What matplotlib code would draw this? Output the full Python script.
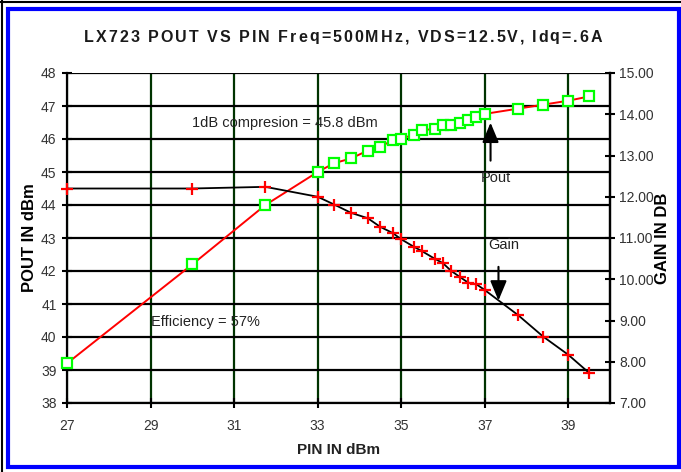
import matplotlib
matplotlib.use("Agg")
import matplotlib.pyplot as plt
from matplotlib import font_manager
from matplotlib.patches import Rectangle
from matplotlib.lines import Line2D

# data
pin = [27, 30, 31.75, 33, 33.4, 33.8, 34.2, 34.5, 34.8, 35, 35.3, 35.5,
       35.8, 36, 36.2, 36.4, 36.6, 36.8, 37, 37.8, 38.4, 39, 39.5]
pout = [39.2, 42.2, 44.0, 45.0, 45.27, 45.41, 45.65, 45.77, 45.96, 46.01,
        46.13, 46.26, 46.31, 46.43, 46.43, 46.5, 46.57, 46.68, 46.76,
        46.92, 47.04, 47.16, 47.29]
gain = [12.2, 12.2, 12.24, 12.0, 11.81, 11.61, 11.48, 11.27, 11.12, 10.97,
        10.79, 10.68, 10.5, 10.39, 10.2, 10.06, 9.92, 9.88, 9.74, 9.13,
        8.61, 8.17, 7.73]
x_ticks = [27, 29, 31, 33, 35, 37, 39]
pout_ticks = list(range(38, 49))
gain_ticks = [7, 8, 9, 10, 11, 12, 13, 14, 15]

title = "LX723 POUT VS PIN Freq=500MHz, VDS=12.5V, Idq=.6A"

plt.rcParams['font.family'] = ['Liberation Sans', 'DejaVu Sans']
note_font = dict(family=['Liberation Sans', 'DejaVu Sans'], fontsize=10.5)

W, H = 681, 472
fig = plt.figure(figsize=(W / 100, H / 100), dpi=100)
fig.patch.set_facecolor('white')

# outer frame: black on left/top, blue box inside
fig.add_artist(Line2D([1.5 / W, 1.5 / W], [0, 1], color='black', lw=1.5,
                      transform=fig.transFigure))
fig.add_artist(Line2D([0, 1], [1 - 1.5 / H, 1 - 1.5 / H], color='black', lw=1.5,
                      transform=fig.transFigure))
fig.add_artist(Rectangle((7.5 / W, 1 - 466.5 / H), (679 - 7.5) / W, (466.5 - 8.5) / H,
                         fill=False, edgecolor='#0000ff', lw=3,
                         transform=fig.transFigure))

left, right, top, bottom = 67, 610, 73, 403
ax = fig.add_axes([left / W, 1 - bottom / H, (right - left) / W, (bottom - top) / H])
ax.set_xlim(27, 40)
ax.set_ylim(38, 48)
ax.set_xticks(x_ticks)
ax.set_yticks(pout_ticks)

for x in x_ticks:
    ax.axvline(x, color='#003300', lw=1.6, zorder=1)
for y in pout_ticks:
    ax.axhline(y, color='black', lw=1.6, zorder=1)

ax.spines['top'].set_visible(False)
for s in ['left', 'bottom', 'right']:
    ax.spines[s].set_linewidth(1.6)

ax.tick_params(direction='inout', length=7, width=1.5, labelsize=10,
               labelcolor='#333333', pad=4)
ax.tick_params(axis='x', pad=8)

ax.plot(pin, pout, color='red', lw=1.4, zorder=3)
ax.plot(pin, pout, ls='none', marker='s', ms=6.5, mfc='white', mec='#00ff00',
        mew=1.6, zorder=4, clip_on=False)

ax.set_xlabel('PIN IN dBm', fontsize=11, fontweight='bold', color='#222222',
              labelpad=7)
ax.set_ylabel('POUT IN dBm', fontsize=12, fontweight='bold', color='black',
              labelpad=3)

ax2 = ax.twinx()
ax2.set_ylim(7, 15)
ax2.set_yticks(gain_ticks)
ax2.set_yticklabels(['%.2f' % g for g in gain_ticks])
for s in ['top', 'left', 'bottom']:
    ax2.spines[s].set_visible(False)
ax2.spines['right'].set_linewidth(1.6)
ax2.tick_params(direction='inout', length=7, width=1.5, labelsize=10,
                labelcolor='#333333', pad=3)
ax2.plot(pin, gain, color='black', lw=1.3, zorder=3)
ax2.plot(pin, gain, ls='none', marker='+', ms=8, mec='red', mew=1.6, zorder=4,
         clip_on=False)
ax2.set_ylabel('GAIN IN DB', fontsize=12, fontweight='bold', color='black',
               labelpad=1)

# annotations
ax.text(30.0, 46.48, '1dB compresion = 45.8 dBm', color='#222222',
        va='center', ha='left', zorder=5, **note_font)
ax.text(29.0, 40.45, 'Efficiency = 57%', color='#222222',
        va='center', ha='left', zorder=5, **note_font)
ax.text(37.26, 44.82, 'Pout', color='#222222', va='center',
        ha='center', zorder=5, **note_font)
ax.text(37.45, 42.79, 'Gain', color='#222222', va='center',
        ha='center', zorder=5, **note_font)
ax.annotate('', xy=(37.14, 46.58), xytext=(37.14, 45.26),
            arrowprops=dict(arrowstyle='-|>,head_length=1.2,head_width=0.5',
                            color='black', lw=1.5), zorder=5)
ax.annotate('', xy=(37.33, 41.02), xytext=(37.33, 42.21),
            arrowprops=dict(arrowstyle='-|>,head_length=1.2,head_width=0.5',
                            color='black', lw=1.5), zorder=5)

# title with letter spacing: place each character by hand
fig.canvas.draw()
renderer = fig.canvas.get_renderer()
tprop = font_manager.FontProperties(family='Liberation Sans', weight='bold', size=11.5)


def text_w(s):
    w, h, d = renderer.get_text_width_height_descent(s + '|', tprop, ismath=False)
    w0, h0, d0 = renderer.get_text_width_height_descent('|', tprop, ismath=False)
    return w - w0


x_start, x_end = 84, 602
natural = text_w(title)
gap = (x_end - x_start - natural) / (len(title) - 1)
for i, ch in enumerate(title):
    if ch == ' ':
        continue
    px = x_start + text_w(title[:i]) + i * gap
    fig.text(px / W, 1 - 37 / H, ch, fontproperties=tprop, color='#1a1a1a',
             ha='left', va='center')

fig.savefig('out.png', dpi=100)
